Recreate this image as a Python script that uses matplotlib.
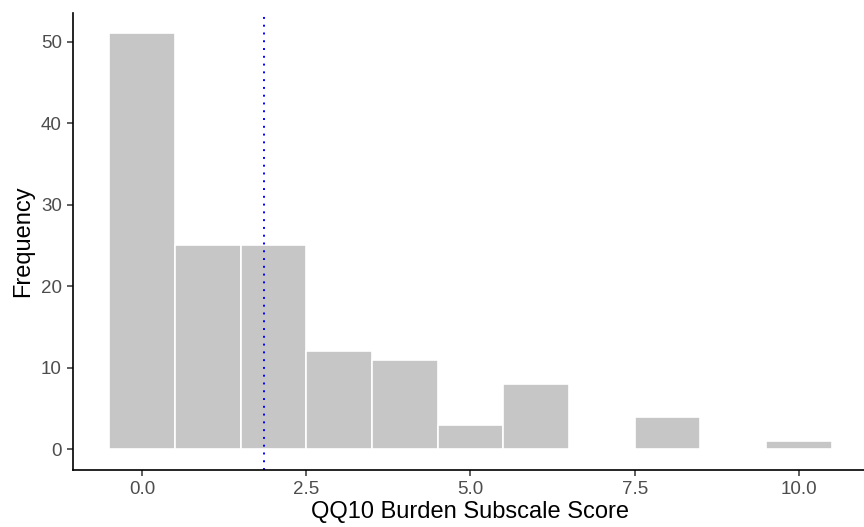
import numpy as np
import matplotlib
matplotlib.use("Agg")
import matplotlib.pyplot as plt

plt.rcParams["font.family"] = ["Liberation Sans", "DejaVu Sans"]

# 直方图数据（每个分数一个柱）
scores = [0, 1, 2, 3, 4, 5, 6, 7, 8, 9, 10]
counts = [51, 25, 25, 12, 11, 3, 8, 0, 4, 0, 1]
mean_score = 1.86
x_ticks = [0.0, 2.5, 5.0, 7.5, 10.0]
y_ticks = [0, 10, 20, 30, 40, 50]

fig = plt.figure(figsize=(8.64, 5.27), dpi=100)
ax = fig.add_axes([0.0845, 0.108, 0.92, 0.868])

ax.bar(scores, counts, width=1.0, color="#c6c6c6", edgecolor="white", linewidth=1.2)
ax.axvline(mean_score, color="blue", linestyle=(0, (1, 3)), linewidth=1.4)

ax.set_xlim(-1.05, 11.05)
ax.set_ylim(-2.55, 53.55)
ax.set_xticks(x_ticks)
ax.set_xticklabels([f"{t:.1f}" for t in x_ticks])
ax.set_yticks(y_ticks)

for s in ["top", "right"]:
    ax.spines[s].set_visible(False)
for s in ["left", "bottom"]:
    ax.spines[s].set_linewidth(1.2)
    ax.spines[s].set_color("black")

ax.tick_params(axis="both", length=4, width=1.1, color="#333333",
               labelsize=13.5, labelcolor="#4d4d4d", pad=4)

ax.set_xlabel("QQ10 Burden Subscale Score", fontsize=17, labelpad=2)
ax.set_ylabel("Frequency", fontsize=17, labelpad=5)

plt.savefig("out.png", dpi=100)
